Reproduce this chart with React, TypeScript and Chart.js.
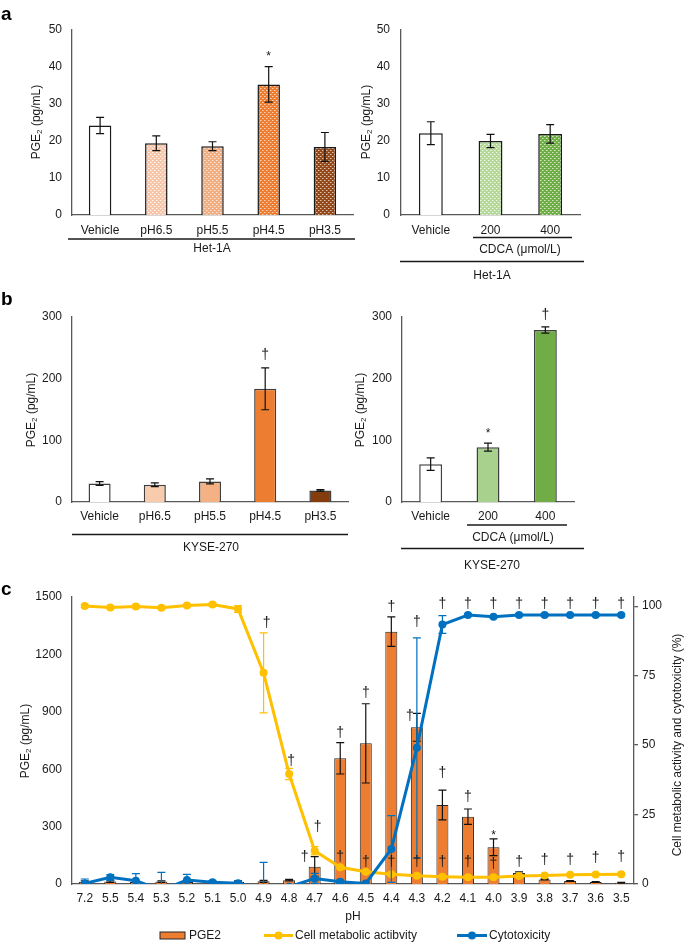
import React, { useEffect, useRef } from "react";
import { Chart, registerables } from "chart.js";
Chart.register(...registerables);

const W = 685;
const H = 943;
const FONT = "'Liberation Sans', Arial, Helvetica, sans-serif";
const AXIS = "#595959";
const TXT = "#1a1a1a";

// ---------- Panel a (Het-1A) ----------
const aLeftCats = ["Vehicle", "pH6.5", "pH5.5", "pH4.5", "pH3.5"];
const aLeftVals = [24.2, 19.4, 18.6, 35.3, 18.4];
const aLeftErr = [2.2, 2.0, 1.2, 4.8, 3.9];
const aRightCats = ["Vehicle", "200", "400"];
const aRightVals = [22.1, 20.0, 21.9];
const aRightErr = [3.1, 1.8, 2.5];

// ---------- Panel b (KYSE-270) ----------
const bLeftCats = ["Vehicle", "pH6.5", "pH5.5", "pH4.5", "pH3.5"];
const bLeftVals = [30.0, 28.0, 33.4, 183.6, 18.8];
const bLeftErr = [3.0, 3.0, 4.0, 34.0, 1.2];
const bRightCats = ["Vehicle", "200", "400"];
const bRightVals = [61.4, 88.9, 279.0];
const bRightErr = [10.0, 6.5, 5.0];

// ---------- Panel c ----------
const cCats = ["7.2", "5.5", "5.4", "5.3", "5.2", "5.1", "5.0", "4.9", "4.8", "4.7", "4.6", "4.5", "4.4", "4.3", "4.2", "4.1", "4.0", "3.9", "3.8", "3.7", "3.6", "3.5"];
const cPGE2 = [12, 13, 11, 13, 10, 7, 12, 14, 20, 90, 657, 735, 1319, 819, 413, 352, 192, 57, 24, 16, 10, 7];
const cPGE2Err = [5, 4, 3, 4, 3, 3, 4, 5, 4, 53, 82, 207, 77, 73, 78, 40, 44, 6, 3, 2, 2, 2];
const cCell = [100.1, 99.5, 99.9, 99.4, 100.2, 100.6, 99.0, 76.0, 39.6, 12.0, 6.0, 4.4, 3.5, 3.0, 2.6, 2.4, 2.4, 2.9, 3.1, 3.3, 3.4, 3.5];
const cCellErr = [0.5, 0.5, 0.5, 0.5, 0.5, 0.5, 1.2, 14.4, 2.0, 1.5, 0.5, 0.4, 0.4, 0.3, 0.3, 0.3, 0.3, 0.3, 0.3, 0.3, 0.3, 0.3];
const cCyto = [0.2, 2.4, 1.2, -2.2, 1.4, 0.6, 0.3, -2.0, -1.0, 2.0, 0.8, 0.2, 12.6, 49.0, 93.4, 96.8, 96.2, 96.8, 96.8, 96.8, 96.8, 96.8];
const cCytoErr = [1.6, 1.0, 2.5, 6.4, 2.1, 0.6, 0.6, 9.8, 0.6, 1.8, 0.6, 0.4, 12.0, 39.6, 3.2, 0.4, 0.4, 0.4, 0.4, 0.4, 0.4, 0.4];

// significance marks: category index, anchor value on the axis, symbol
const cMarksPGE2 = [
  { i: 9, v: 141, s: "†", dx: -10 }, { i: 10, v: 789, s: "†" }, { i: 11, v: 998, s: "†" },
  { i: 12, v: 1448, s: "†" }, { i: 13, v: 878, s: "†", dx: -7 }, { i: 14, v: 580, s: "†" },
  { i: 15, v: 455, s: "†" }, { i: 16, v: 272, s: "*" },
];
const cMarksCell = [
  { i: 7, v: 93.9, s: "†", dx: 3 }, { i: 8, v: 44.2, s: "†", dx: 2 }, { i: 9, v: 20.5, s: "†", dx: 3 },
  { i: 10, v: 9.7, s: "†" }, { i: 11, v: 7.9, s: "†" }, { i: 12, v: 7.9, s: "†" }, { i: 13, v: 7.9, s: "†" },
  { i: 14, v: 7.9, s: "†" }, { i: 15, v: 7.9, s: "†" }, { i: 16, v: 7.2, s: "†" }, { i: 17, v: 7.9, s: "†" },
  { i: 18, v: 8.6, s: "†" }, { i: 19, v: 8.6, s: "†" }, { i: 20, v: 9.4, s: "†" }, { i: 21, v: 9.7, s: "†" },
];
const cMarksCyto = [
  { i: 13, v: 94.2, s: "†" }, { i: 14, v: 101, s: "†" }, { i: 15, v: 101, s: "†" }, { i: 16, v: 101, s: "†" },
  { i: 17, v: 101, s: "†" }, { i: 18, v: 101, s: "†" }, { i: 19, v: 101, s: "†" }, { i: 20, v: 101, s: "†" },
  { i: 21, v: 101, s: "†" },
];

type Part = { t: string; size: number; dy: number };
type Txt = { x: number; y: number; t: string; size?: number; bold?: boolean; align?: CanvasTextAlign; base?: CanvasTextBaseline };
type ErrSpec = { ds: number; data: number[]; color: string; width: number; cap: number; axis: string };
type Mark = { i: number; v: number; s: string; dx?: number };
type MarkSet = { axis: string; marks: Mark[] };
type Deco = {
  lines?: number[][];
  texts?: Txt[];
  titles?: { x: number; y: number; parts: Part[] }[];
  errs?: ErrSpec[];
  marks?: MarkSet[];
  legend?: boolean;
};

const PGE_TITLE: Part[] = [
  { t: "PGE", size: 12, dy: 0 },
  { t: "2", size: 8, dy: 3 },
  { t: " (pg/mL)", size: 12, dy: 0 },
];

const plainTick = (v: any) => String(v);

function drawRot(ctx: CanvasRenderingContext2D, x: number, y: number, parts: Part[]) {
  ctx.save();
  ctx.translate(x, y);
  ctx.rotate(-Math.PI / 2);
  ctx.textAlign = "left";
  ctx.textBaseline = "middle";
  ctx.fillStyle = TXT;
  let total = 0;
  const ws = parts.map((p) => {
    ctx.font = `${p.size}px ${FONT}`;
    const w = ctx.measureText(p.t).width;
    total += w;
    return w;
  });
  let cx = -total / 2;
  parts.forEach((p, k) => {
    ctx.font = `${p.size}px ${FONT}`;
    ctx.fillText(p.t, cx, p.dy);
    cx += ws[k];
  });
  ctx.restore();
}

function makeDeco(d: Deco) {
  return {
    id: "deco",
    afterDatasetDraw(chart: any, args: any) {
      const ctx: CanvasRenderingContext2D = chart.ctx;
      const ca = chart.chartArea;
      (d.errs || []).filter((e) => e.ds === args.index).forEach((e) => {
        const meta = chart.getDatasetMeta(e.ds);
        const ys = chart.scales[e.axis];
        const vals = chart.data.datasets[e.ds].data as number[];
        ctx.save();
        ctx.beginPath();
        ctx.rect(ca.left, ca.top - 2, ca.right - ca.left, ca.bottom - ca.top + 2);
        ctx.clip();
        ctx.strokeStyle = e.color;
        ctx.lineWidth = e.width;
        meta.data.forEach((el: any, k: number) => {
          const x = el.x;
          const y1 = ys.getPixelForValue(vals[k] + e.data[k]);
          const y2 = ys.getPixelForValue(vals[k] - e.data[k]);
          ctx.beginPath();
          ctx.moveTo(x, y1);
          ctx.lineTo(x, y2);
          ctx.moveTo(x - e.cap, y1);
          ctx.lineTo(x + e.cap, y1);
          ctx.moveTo(x - e.cap, y2);
          ctx.lineTo(x + e.cap, y2);
          ctx.stroke();
        });
        ctx.restore();
      });
    },
    afterDraw(chart: any) {
      const ctx: CanvasRenderingContext2D = chart.ctx;
      ctx.save();
      ctx.strokeStyle = TXT;
      ctx.lineWidth = 1.3;
      (d.lines || []).forEach((l) => {
        ctx.beginPath();
        ctx.moveTo(l[0], l[1]);
        ctx.lineTo(l[2], l[3]);
        ctx.stroke();
      });
      (d.texts || []).forEach((t) => {
        ctx.font = `${t.bold ? "bold " : ""}${t.size || 12}px ${FONT}`;
        ctx.fillStyle = t.bold ? "#000" : TXT;
        ctx.textAlign = t.align || "center";
        ctx.textBaseline = t.base || "middle";
        ctx.fillText(t.t, t.x, t.y);
      });
      (d.titles || []).forEach((t) => drawRot(ctx, t.x, t.y, t.parts));
      const xs = chart.scales.x;
      (d.marks || []).forEach((ms) => {
        const ys = chart.scales[ms.axis];
        ms.marks.forEach((m) => {
          const x = xs.getPixelForValue(m.i) + (m.dx || 0);
          const y = ys.getPixelForValue(m.v);
          const star = m.s === "*";
          const size = star ? 12 : 14;
          ctx.font = `${size}px ${FONT}`;
          ctx.fillStyle = TXT;
          ctx.textAlign = "center";
          ctx.textBaseline = "alphabetic";
          ctx.fillText(m.s, x, y + (star ? 0.6 : 0.3) * size);
        });
      });
      if (d.legend) {
        const ly = 935.5;
        ctx.fillStyle = "#ed7d31";
        ctx.fillRect(160, ly - 3.5, 25, 7);
        ctx.strokeStyle = "#262626";
        ctx.lineWidth = 1;
        ctx.strokeRect(160, ly - 3.5, 25, 7);
        const seg = (x1: number, x2: number, col: string) => {
          ctx.strokeStyle = col;
          ctx.lineWidth = 3;
          ctx.beginPath();
          ctx.moveTo(x1, ly);
          ctx.lineTo(x2, ly);
          ctx.stroke();
          ctx.fillStyle = col;
          ctx.beginPath();
          ctx.arc((x1 + x2) / 2, ly, 4, 0, Math.PI * 2);
          ctx.fill();
        };
        seg(264, 293, "#ffc000");
        seg(457, 487, "#0070c0");
        ctx.font = `12px ${FONT}`;
        ctx.fillStyle = TXT;
        ctx.textAlign = "left";
        ctx.textBaseline = "middle";
        ctx.fillText("PGE2", 189, ly);
        ctx.fillText("Cell metabolic actibvity", 295, ly);
        ctx.fillText("Cytotoxicity", 489, ly);
      }
      ctx.restore();
    },
  };
}

function pattern(base: string, light: string): CanvasPattern | string {
  const c = document.createElement("canvas");
  c.width = 4;
  c.height = 4;
  const g = c.getContext("2d");
  if (!g) return base;
  g.fillStyle = base;
  g.fillRect(0, 0, 4, 4);
  g.fillStyle = light;
  g.fillRect(0, 0, 1, 1);
  g.fillRect(2, 2, 1, 1);
  g.globalAlpha = 0.5;
  g.fillRect(1, 0, 1, 1);
  g.fillRect(3, 2, 1, 1);
  const p = g.createPattern(c, "repeat");
  return p || base;
}

type Geo = { l: number; r: number; t: number; b: number };

function barConfig(
  geo: Geo,
  cats: string[],
  vals: number[],
  colors: any[],
  border: string,
  yMax: number,
  yStep: number,
  xPad: number,
  yPad: number,
  deco: Deco
) {
  return {
    type: "bar",
    data: {
      labels: cats,
      datasets: [
        {
          data: vals,
          backgroundColor: colors,
          borderColor: border,
          borderWidth: 1.5,
          barPercentage: 0.4,
          categoryPercentage: 1,
        },
      ],
    },
    options: {
      responsive: false,
      animation: false,
      events: [],
      layout: { padding: { left: geo.l - 50, right: W - geo.r, top: geo.t, bottom: H - geo.b - 30 } },
      plugins: { legend: { display: false }, tooltip: { enabled: false } },
      scales: {
        x: {
          grid: { display: false, drawTicks: false },
          border: { display: true, color: AXIS, width: 1.3 },
          ticks: { padding: xPad, color: TXT, font: { size: 12, family: FONT }, maxRotation: 0, autoSkip: false },
          afterFit: (s: any) => { s.height = 30; },
        },
        y: {
          min: 0,
          max: yMax,
          grid: { display: false, drawTicks: false },
          border: { display: true, color: AXIS, width: 1.3 },
          ticks: { stepSize: yStep, padding: yPad, color: TXT, font: { size: 12, family: FONT }, callback: plainTick },
          afterFit: (s: any) => { s.width = 50; },
        },
      },
    },
    plugins: [makeDeco({ ...deco, errs: [{ ds: 0, data: (deco as any).err, color: "#111", width: 1.2, cap: 4, axis: "y" }] })],
  };
}

function cConfig() {
  const geo = { l: 72, r: 634, t: 597, b: 884 };
  return {
    type: "bar",
    data: {
      labels: cCats,
      datasets: [
        {
          type: "bar",
          label: "PGE2",
          data: cPGE2,
          backgroundColor: "#ed7d31",
          borderColor: "#262626",
          borderWidth: 1,
          barPercentage: 0.47,
          categoryPercentage: 1,
          yAxisID: "y",
          order: 3,
        },
        {
          type: "line",
          label: "Cell metabolic actibvity",
          data: cCell,
          borderColor: "#ffc000",
          backgroundColor: "#ffc000",
          borderWidth: 3,
          pointRadius: 4,
          pointBorderWidth: 0,
          pointBackgroundColor: "#ffc000",
          tension: 0,
          yAxisID: "y2",
          order: 2,
          clip: 0,
        },
        {
          type: "line",
          label: "Cytotoxicity",
          data: cCyto,
          borderColor: "#0070c0",
          backgroundColor: "#0070c0",
          borderWidth: 3,
          pointRadius: 4,
          pointBorderWidth: 0,
          pointBackgroundColor: "#0070c0",
          tension: 0,
          yAxisID: "y2",
          order: 1,
          clip: 0,
        },
      ],
    },
    options: {
      responsive: false,
      animation: false,
      events: [],
      layout: { padding: { left: geo.l - 50, right: W - geo.r - 50, top: geo.t, bottom: H - geo.b - 30 } },
      plugins: { legend: { display: false }, tooltip: { enabled: false } },
      scales: {
        x: {
          grid: { display: false, drawTicks: false },
          border: { display: true, color: AXIS, width: 1.3 },
          ticks: { padding: 7, color: TXT, font: { size: 12, family: FONT }, maxRotation: 0, autoSkip: false },
          afterFit: (s: any) => { s.height = 30; },
        },
        y: {
          position: "left",
          min: 0,
          max: 1500,
          grid: { display: false, drawTicks: false },
          border: { display: true, color: AXIS, width: 1.3 },
          ticks: { stepSize: 300, padding: 10, color: TXT, font: { size: 12, family: FONT }, callback: plainTick },
          afterFit: (s: any) => { s.width = 50; },
        },
        y2: {
          position: "right",
          min: 0,
          max: 103.3,
          grid: { display: true, drawOnChartArea: false, drawTicks: true, tickLength: 4, color: AXIS, lineWidth: 1.3 },
          border: { display: true, color: AXIS, width: 1.3 },
          ticks: { padding: 4, color: TXT, font: { size: 12, family: FONT }, callback: plainTick },
          afterBuildTicks: (s: any) => { s.ticks = [0, 25, 50, 75, 100].map((v) => ({ value: v })); },
          afterFit: (s: any) => { s.width = 50; },
        },
      },
    },
    plugins: [
      makeDeco({
        texts: [
          { x: 1, y: 595, t: "c", size: 19, bold: true, align: "left", base: "alphabetic" },
          { x: 353, y: 917, t: "pH" },
        ],
        titles: [
          { x: 26, y: 741, parts: PGE_TITLE },
          { x: 678, y: 745, parts: [{ t: "Cell metabolic activity and cytotoxicity (%)", size: 12, dy: 0 }] },
        ],
        errs: [
          { ds: 0, data: cPGE2Err, color: "#111", width: 1.2, cap: 4, axis: "y" },
          { ds: 1, data: cCellErr, color: "#ffc000", width: 1.2, cap: 4, axis: "y2" },
          { ds: 2, data: cCytoErr, color: "#0070c0", width: 1.2, cap: 4, axis: "y2" },
        ],
        marks: [
          { axis: "y", marks: cMarksPGE2 },
          { axis: "y2", marks: cMarksCell },
          { axis: "y2", marks: cMarksCyto },
        ],
        legend: true,
      }),
    ],
  };
}

function ChartLayer({ make }: { make: () => any }) {
  const ref = useRef<HTMLCanvasElement>(null);
  useEffect(() => {
    if (!ref.current) return;
    const chart = new Chart(ref.current, make());
    return () => chart.destroy();
  }, []);
  return (
    <canvas
      ref={ref}
      width={W}
      height={H}
      style={{ position: "absolute", left: 0, top: 0, width: W, height: H }}
    />
  );
}

export default function App() {
  const mkALeft = () =>
    barConfig(
      { l: 72, r: 353, t: 30, b: 215 },
      aLeftCats,
      aLeftVals,
      ["#ffffff", pattern("#f6c7aa", "#fdf1ea"), pattern("#f2ae83", "#fbe3d3"), pattern("#ee7d31", "#fbd2b4"), pattern("#94491a", "#dfbfa8")],
      "#1a1a1a",
      50,
      10,
      8,
      10,
      {
        err: aLeftErr,
        lines: [[68, 239, 355, 239]],
        texts: [
          { x: 1, y: 20, t: "a", size: 19, bold: true, align: "left", base: "alphabetic" },
          { x: 212, y: 249, t: "Het-1A" },
        ],
        titles: [{ x: 37, y: 122, parts: PGE_TITLE }],
        marks: [{ axis: "y", marks: [{ i: 3, v: 43.8, s: "*" }] }],
      } as any
    );
  const mkARight = () =>
    barConfig(
      { l: 401, r: 580, t: 30, b: 215 },
      aRightCats,
      aRightVals,
      ["#ffffff", pattern("#b3d898", "#eef7e8"), pattern("#6fae44", "#d3eac4")],
      "#1a1a1a",
      50,
      10,
      8,
      11,
      {
        err: aRightErr,
        lines: [[473, 237.5, 572, 237.5], [400, 261.5, 584, 261.5]],
        texts: [
          { x: 520, y: 250, t: "CDCA (μmol/L)" },
          { x: 492, y: 276, t: "Het-1A" },
        ],
        titles: [{ x: 367, y: 122, parts: PGE_TITLE }],
      } as any
    );
  const mkBLeft = () =>
    barConfig(
      { l: 72, r: 348, t: 317, b: 502 },
      bLeftCats,
      bLeftVals,
      ["#ffffff", "#f8cbad", "#f4b183", "#ed7d31", "#843c0c"],
      "#404040",
      300,
      100,
      7,
      10,
      {
        err: bLeftErr,
        lines: [[72, 534.5, 348, 534.5]],
        texts: [
          { x: 1, y: 305, t: "b", size: 19, bold: true, align: "left", base: "alphabetic" },
          { x: 211, y: 548, t: "KYSE-270" },
        ],
        titles: [{ x: 32, y: 410, parts: PGE_TITLE }],
        marks: [{ axis: "y", marks: [{ i: 3, v: 238, s: "†" }] }],
      } as any
    );
  const mkBRight = () =>
    barConfig(
      { l: 402, r: 574, t: 317, b: 502 },
      bRightCats,
      bRightVals,
      ["#ffffff", "#a9d18e", "#70ad47"],
      "#404040",
      300,
      100,
      7,
      10,
      {
        err: bRightErr,
        lines: [[467, 525, 567, 525], [401, 548.5, 584, 548.5]],
        texts: [
          { x: 513, y: 538, t: "CDCA (μmol/L)" },
          { x: 492, y: 566, t: "KYSE-270" },
        ],
        titles: [{ x: 361, y: 410, parts: PGE_TITLE }],
        marks: [{ axis: "y", marks: [{ i: 1, v: 116.8, s: "*" }, { i: 2, v: 303, s: "†" }] }],
      } as any
    );

  return (
    <div style={{ position: "absolute", left: 0, top: 0, width: W, height: H, background: "#fff", overflow: "hidden" }}>
      <ChartLayer make={mkALeft} />
      <ChartLayer make={mkARight} />
      <ChartLayer make={mkBLeft} />
      <ChartLayer make={mkBRight} />
      <ChartLayer make={cConfig} />
    </div>
  );
}
